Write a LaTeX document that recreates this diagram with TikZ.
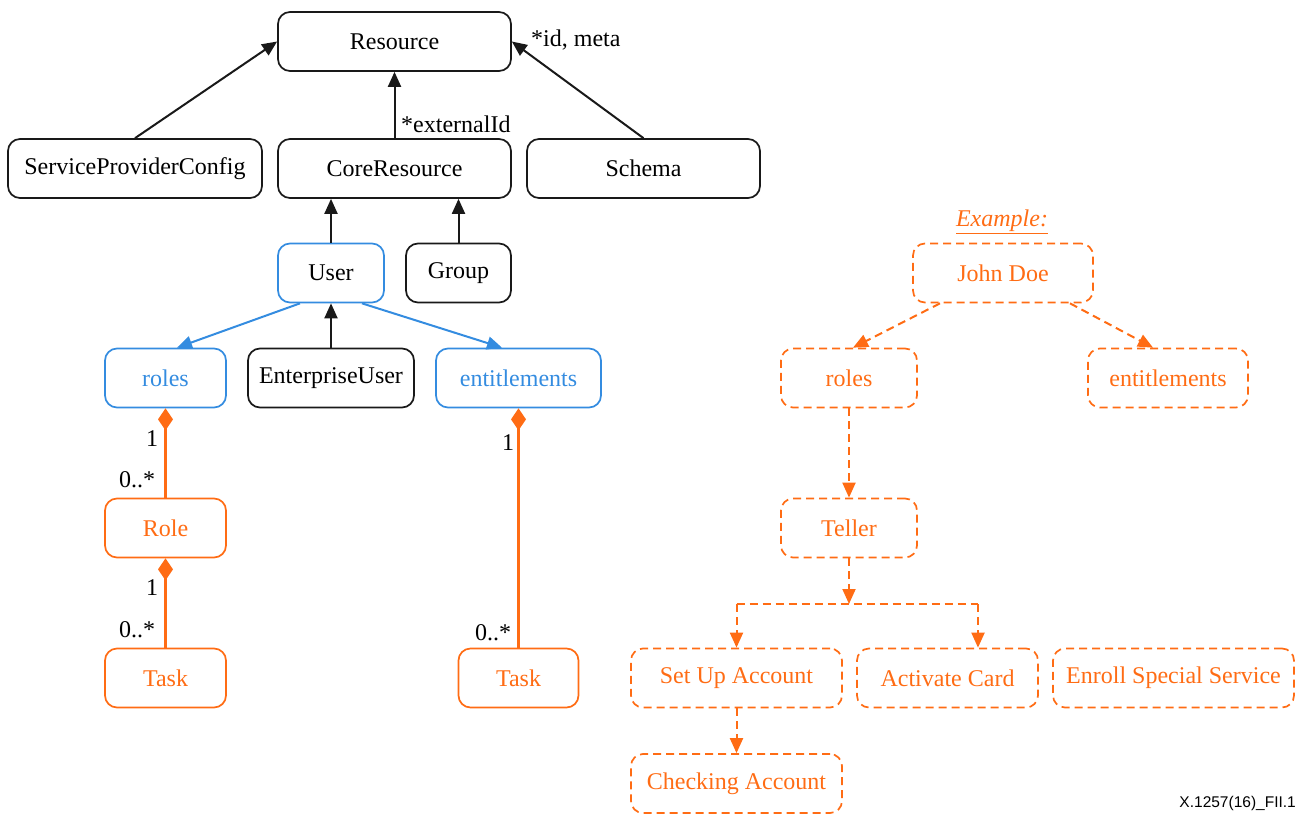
\documentclass[tikz,border=0pt]{standalone}
\usepackage{fontspec}
\setmainfont{Liberation Serif}
\newfontfamily\labelsans{Liberation Sans}
\usetikzlibrary{arrows.meta}
\definecolor{umlblue}{RGB}{52,140,224}
\definecolor{exorange}{RGB}{255,108,20}
\definecolor{umlblack}{RGB}{25,25,25}

\begin{document}
\begin{tikzpicture}[x=1pt,y=-1pt,
  txt/.style={font=\fontsize{24}{28}\selectfont},
  box/.style={txt, draw, rounded corners=12pt, line width=1.7pt, inner sep=0pt,
              minimum height=59pt, align=center},
  blackbox/.style={box, draw=umlblack, text=black},
  bluebox/.style={box, draw=umlblue, text=umlblue},
  orangebox/.style={box, draw=exorange, text=exorange},
  dashbox/.style={orangebox, dash pattern=on 8pt off 5pt},
  inherit/.style={draw=umlblack, line width=2pt, -{Triangle[length=15pt,width=13pt]}},
  assoc/.style={draw=umlblue, line width=2pt, -{Triangle[length=15pt,width=13pt]}},
  compose/.style={draw=exorange, line width=2.2pt,
                  {Diamond[length=22pt,width=15pt,fill=exorange]}-},
  dashlink/.style={draw=exorange, line width=2pt, dash pattern=on 8pt off 5pt,
                   -{Triangle[length=15pt,width=13pt]}},
  dashline/.style={draw=exorange, line width=2pt, dash pattern=on 8pt off 5pt},
  mult/.style={txt, inner sep=0pt, text=black}
]
\useasboundingbox (0,0) rectangle (1298,814);

% ---- SCIM resource model ----
\node[blackbox, minimum width=233pt] (res)    at (394.5,41.5)  {Resource};
\node[blackbox, minimum width=254pt] (spc)    at (135,168.5)   {ServiceProviderConfig};
\node[blackbox, minimum width=233pt] (core)   at (394.5,168.5) {CoreResource};
\node[blackbox, minimum width=233pt] (schema) at (643.5,168.5) {Schema};

\node[box, draw=umlblue, text=black, minimum width=106pt] (user) at (331,273) {User};
\node[blackbox, minimum width=105pt] (group)  at (458.5,273)   {Group};

\node[bluebox, minimum width=121pt] (roles)   at (165.5,378)   {roles};
\node[blackbox, minimum width=166pt] (ent)    at (331,378)     {EnterpriseUser};
\node[bluebox, minimum width=165pt] (entl)    at (518.5,378)   {entitlements};

\node[orangebox, minimum width=121pt] (role)  at (165.5,528)   {Role};
\node[orangebox, minimum width=121pt] (taskA) at (165.5,678)   {Task};
\node[orangebox, minimum width=120pt] (taskB) at (518.5,678)   {Task};

% inheritance
\draw[inherit] (spc.north) -- (res.west);
\draw[inherit] (schema.north) -- (res.east);
\draw[inherit] (core) -- (res);
\draw[inherit] (user.north) -- (user.north |- core.south);
\draw[inherit] (group) -- (group.north |- core.south);
\draw[inherit] (ent) -- (user);

\node[mult, anchor=west] (lblext) at (401,124) {*externalId};
\node[mult, anchor=west] (lblid)  at (531,40)  {*id, meta};

% attributes of User
\draw[assoc] ([xshift=-31pt]user.south) -- ([xshift=11.5pt]roles.north);
\draw[assoc] ([xshift=31pt]user.south) -- ([xshift=-16.5pt]entl.north);

% composition
\draw[compose] (roles) -- (role);
\draw[compose] (role) -- (taskA);
\draw[compose] (entl) -- (taskB.north -| entl.south);

\node[mult] (m1) at (152,439) {1};
\node[mult] (m2) at (137,480) {0..*};
\node[mult] (m3) at (152,588) {1};
\node[mult] (m4) at (137,630) {0..*};
\node[mult] (m5) at (508,443) {1};
\node[mult] (m6) at (493,633) {0..*};

% ---- example instance ----
\node[txt, text=exorange, inner sep=0pt] (ex) at (1002,222) {\underline{\textit{Example:}}};
\node[dashbox, minimum width=180pt] (john)   at (1003,273)  {John Doe};
\node[dashbox, minimum width=136pt] (xroles) at (849,378)   {roles};
\node[dashbox, minimum width=160pt] (xentl)  at (1168,378)  {entitlements};
\node[dashbox, minimum width=136pt] (teller) at (849,528)   {Teller};
\node[dashbox, minimum width=211pt] (setup)  at (736.5,678) {Set Up Account};
\node[dashbox, minimum width=181pt] (card)   at (947.5,678) {Activate Card};
\node[dashbox, minimum width=241pt] (enroll) at (1173.5,678){Enroll Special Service};
\node[dashbox, minimum width=211pt] (check)  at (736.5,783.5){Checking Account};

\draw[dashlink] ([xshift=-63pt]john.south) -- ([xshift=4pt]xroles.north);
\draw[dashlink] ([xshift=67pt]john.south) -- ([xshift=-15pt]xentl.north);
\draw[dashlink] (xroles) -- (teller);

\coordinate (split)  at (849,604);
\coordinate (splitL) at (736.5,604);
\coordinate (splitR) at (978,604);
\draw[dashlink] (teller) -- (split);
\draw[dashline] (splitL) -- (splitR);
\draw[dashlink] (splitL) -- (setup);
\draw[dashlink] (splitR) -- (splitR |- card.north);
\draw[dashlink] (setup) -- (check);

\node[font=\labelsans\fontsize{15.5}{18}\selectfont, anchor=east, inner sep=0pt] (fig) at (1296,803) {X.1257(16)\_FII.1};
\end{tikzpicture}
\end{document}
